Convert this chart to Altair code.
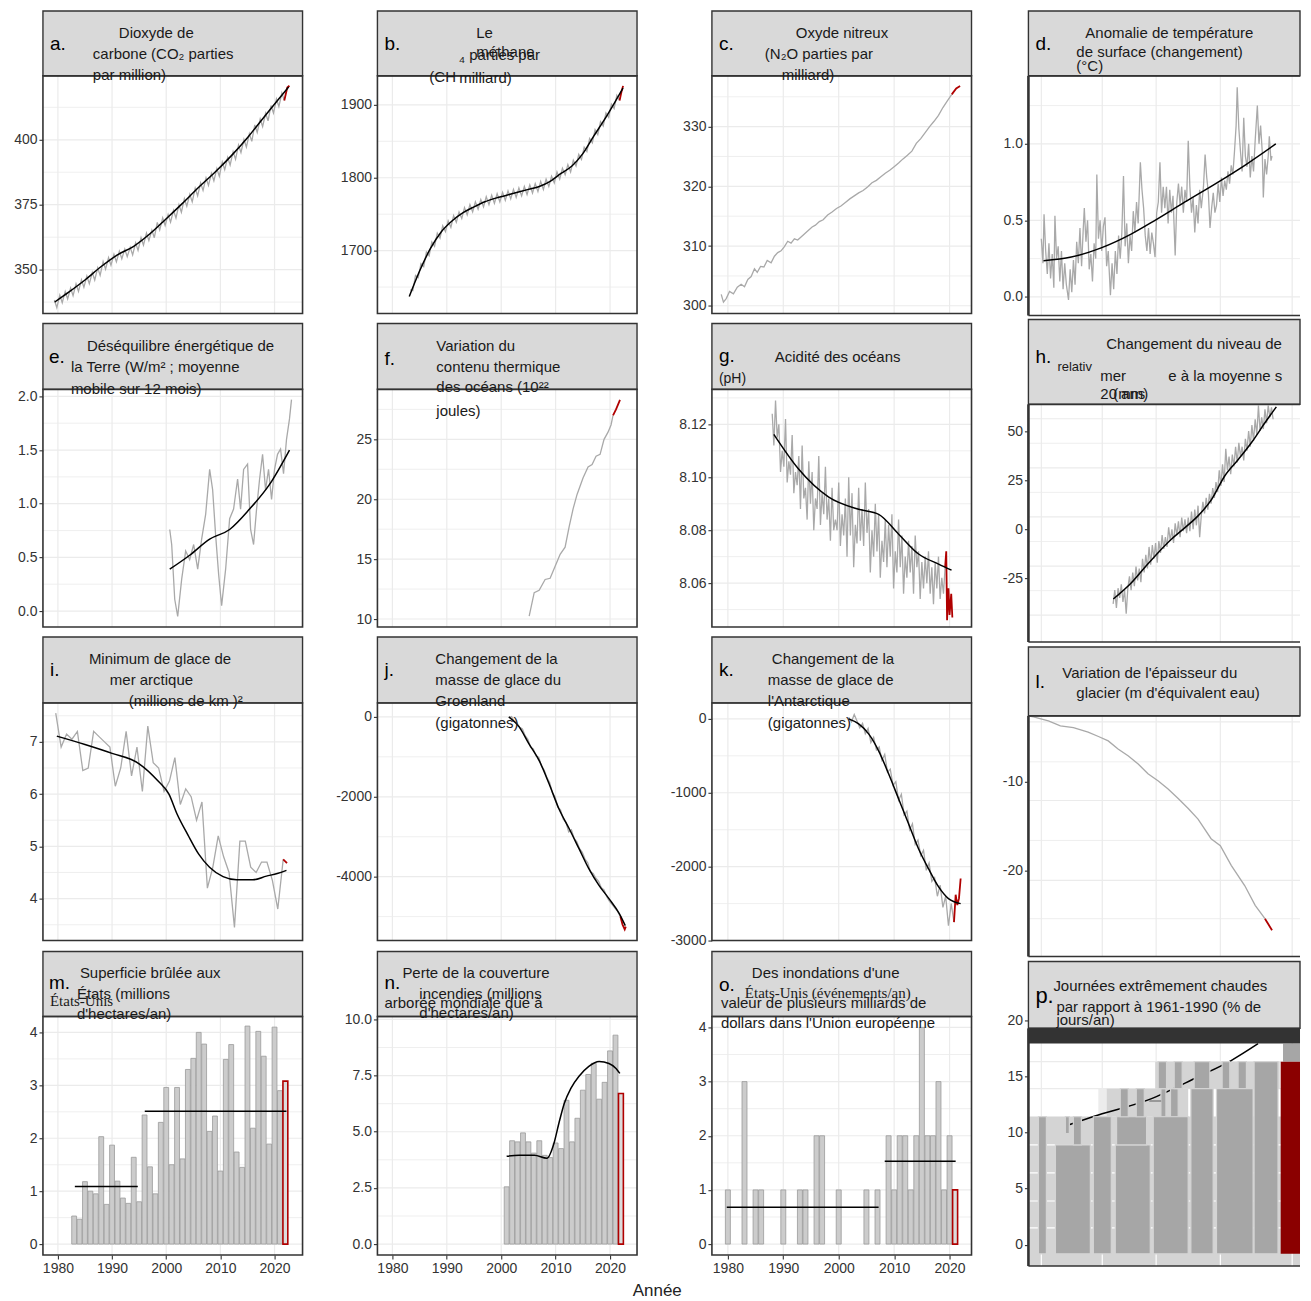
import altair as alt
import pandas as pd

FONT = "Liberation Sans"
SERIF = "Liberation Serif"
C_GRAY = "#a9a9a9"
C_RED = "#b00000"
C_GRID = "#ebebeb"
C_BORDER = "#333333"
C_STRIP = "#d9d9d9"
C_BAR = "#cccccc"
C_BAR_LINE = "#9a9a9a"
C_TXT = "#1a1a1a"
C_AXIS = "#333333"

# ---------------- data ----------------
# a. CO2 (ppm): seasonal high / low per year
a_years = list(range(1979, 2022))
a_high = [338.3, 340.2, 341.6, 342.9, 344.5, 346.1, 347.5, 348.9, 350.7, 353.1,
          354.6, 355.9, 357.1, 357.9, 358.6, 360.3, 362.3, 364.1, 365.2, 368.2,
          369.9, 371.2, 372.8, 375.0, 377.3, 379.0, 381.3, 383.4, 385.3, 387.1,
          388.9, 391.4, 393.2, 395.4, 398.0, 400.1, 402.3, 405.7, 408.0, 410.2,
          413.2, 415.7, 418.0]
a_low = [335.4, 337.3, 338.7, 340.0, 341.6, 343.2, 344.6, 346.0, 347.8, 350.2,
         351.7, 353.0, 354.2, 355.0, 355.7, 357.4, 359.4, 361.2, 362.3, 365.3,
         367.0, 368.3, 369.9, 372.1, 374.4, 376.1, 378.4, 380.5, 382.4, 384.2,
         386.0, 388.5, 390.3, 392.5, 395.1, 397.2, 399.4, 402.8, 405.1, 407.3,
         410.3, 412.8, 415.1]
a_red_t = [2021.8, 2022.35, 2022.75]
a_red_v = [415.1, 420.1, 420.8]
a_fit_t = [1979.4, 1982, 1985, 1988, 1991, 1994, 1997, 2000, 2003, 2006, 2009, 2012, 2015, 2018, 2021, 2022.6]
a_fit_v = [337.5, 341.3, 346.0, 351.2, 355.7, 359.0, 363.8, 369.6, 375.5, 381.7, 387.5, 393.8, 400.8, 408.6, 416.3, 420.3]

# b. methane (ppb)
b_years = list(range(1983, 2022))
b_high = [1646, 1666, 1682, 1698, 1712, 1724, 1734, 1741, 1748, 1753, 1759, 1763, 1767, 1770,
          1774, 1776, 1778, 1780, 1782, 1784, 1786, 1788, 1790, 1792, 1795, 1798, 1802, 1808,
          1813, 1818, 1824, 1832, 1842, 1854, 1866, 1877, 1889, 1901, 1913]
b_low = [1645, 1663, 1678, 1693, 1706, 1717, 1726, 1732, 1739, 1744, 1749, 1753, 1757, 1760,
         1763, 1765, 1767, 1769, 1771, 1773, 1775, 1777, 1779, 1781, 1784, 1788, 1793, 1798,
         1804, 1808, 1816, 1825, 1836, 1848, 1859, 1871, 1883, 1895, 1906]
b_red_t = [2021.75, 2022.1, 2022.4]
b_red_v = [1906, 1918, 1926]
b_fit_t = [1983.1, 1985, 1987, 1989, 1991, 1993, 1995, 1997, 1999, 2001, 2003, 2005, 2007,
           2009, 2011, 2013, 2015, 2017, 2019, 2021, 2022.4]
b_fit_v = [1637, 1672, 1703, 1726, 1741, 1752, 1760, 1767, 1772, 1776, 1780, 1784, 1788,
           1795, 1806, 1816, 1833, 1857, 1880, 1905, 1923]

# c. N2O (ppb)
c_t = [1978.8, 1979.2, 1979.7, 1980.3, 1981.0, 1981.7, 1982.4, 1983.0, 1983.6, 1984.2,
       1984.8, 1985.3, 1985.9, 1986.5, 1987.1, 1987.8, 1988.4, 1989.0, 1989.6, 1990.2,
       1990.8, 1991.4, 1992.0, 1992.6, 1993.2, 1993.9, 1994.5, 1995.2, 1995.8, 1996.5,
       1997.2, 1998.0, 1998.8, 1999.6, 2000.4, 2001.2, 2002.0, 2002.8, 2003.6, 2004.4,
       2005.2, 2006.0, 2006.8, 2007.6, 2008.4, 2009.2, 2010.0, 2010.8, 2011.6, 2012.4,
       2013.2, 2014.0, 2014.8, 2015.6, 2016.4, 2017.2, 2018.0, 2018.8, 2019.6, 2020.4]
c_v = [301.9, 300.6, 301.2, 302.4, 302.0, 303.1, 303.6, 303.2, 304.4, 304.9,
       306.2, 305.6, 306.6, 306.5, 307.6, 307.2, 308.3, 308.9, 309.2, 309.9,
       310.8, 310.5, 311.2, 311.0, 311.5, 312.1, 312.6, 313.2, 313.5, 314.1,
       314.4, 315.2, 315.7, 316.3, 316.7, 317.3, 317.9, 318.4, 318.9, 319.3,
       319.9, 320.6, 321.0, 321.6, 322.2, 322.7, 323.3, 323.9, 324.6, 325.2,
       325.9, 327.2, 328.0, 329.0, 330.0, 330.9, 331.9, 333.2, 334.3, 335.4]
c_red_t = [2020.4, 2021.2, 2021.9]
c_red_v = [335.4, 336.4, 336.8]

# d. surface temperature anomaly (deg C)
d_t = [1979.8, 1980.1, 1980.3, 1980.6, 1980.9, 1981.2, 1981.5, 1981.8, 1982.1, 1982.3,
       1982.6, 1982.9, 1983.2, 1983.5, 1983.8, 1984.1, 1984.4, 1984.8, 1985.1, 1985.4,
       1985.7, 1986.0, 1986.3, 1986.6, 1986.9, 1987.2, 1987.5, 1987.7, 1988.0, 1988.3,
       1988.6, 1988.9, 1989.2, 1989.5, 1989.8, 1990.0, 1990.3, 1990.6, 1990.9, 1991.2,
       1991.5, 1991.8, 1992.1, 1992.5, 1992.8, 1993.1, 1993.4, 1993.7, 1994.0, 1994.3,
       1994.6, 1994.9, 1995.2, 1995.5, 1995.8, 1996.1, 1996.4, 1996.7, 1997.0, 1997.3,
       1997.6, 1998.0, 1998.3, 1998.6, 1998.9, 1999.2, 1999.5, 1999.8, 2000.1, 2000.4,
       2000.7, 2001.0, 2001.3, 2001.6, 2001.9, 2002.2, 2002.5, 2002.8, 2003.1, 2003.4,
       2003.7, 2004.0, 2004.4, 2004.7, 2005.0, 2005.3, 2005.6, 2005.9, 2006.2, 2006.5,
       2006.8, 2007.1, 2007.4, 2007.7, 2008.0, 2008.3, 2008.6, 2008.9, 2009.2, 2009.6,
       2009.9, 2010.2, 2010.5, 2010.8, 2011.1, 2011.4, 2011.7, 2012.0, 2012.3, 2012.6,
       2012.9, 2013.2, 2013.5, 2013.8, 2014.1, 2014.4, 2014.7, 2015.0, 2015.3, 2015.6,
       2015.8, 2016.1, 2016.4, 2016.7, 2017.0, 2017.3, 2017.6, 2017.9, 2018.2, 2018.5,
       2018.8, 2019.1, 2019.5, 2019.8, 2020.1, 2020.4, 2020.6, 2020.9, 2021.2, 2021.5,
       2021.7, 2022.0, 2022.2]
d_v = [0.38, 0.22, 0.54, 0.30, 0.15, 0.35, 0.12, 0.28, 0.06, 0.53,
       0.25, 0.33, 0.10, 0.30, 0.05, 0.22, 0.08, -0.02, 0.18, 0.03,
       0.24, 0.08, 0.36, 0.22, 0.45, 0.20, 0.44, 0.58, 0.36, 0.50,
       0.18, 0.28, 0.10, 0.35, 0.25, 0.80, 0.38, 0.50, 0.30, 0.46,
       0.52, 0.20, 0.30, 0.01, 0.22, 0.05, 0.30, 0.15, 0.40, 0.25,
       0.42, 0.79, 0.33, 0.48, 0.22, 0.40, 0.30, 0.56, 0.42, 0.62,
       0.48, 0.88, 0.70, 0.58, 0.40, 0.30, 0.45, 0.28, 0.42, 0.35,
       0.26, 0.55, 0.62, 0.88, 0.55, 0.72, 0.58, 0.72, 0.48, 0.70,
       0.55, 0.66, 0.27, 0.62, 0.74, 0.60, 0.72, 0.55, 0.70, 0.62,
       1.02, 0.72, 0.55, 0.65, 0.42, 0.60, 0.48, 0.70, 0.58, 0.72,
       0.93, 0.78, 0.68, 0.45, 0.58, 0.68, 0.55, 0.60, 0.74, 0.62,
       0.78, 0.66, 0.76, 0.70, 0.82, 0.74, 0.86, 0.80, 0.95, 1.12,
       1.37, 1.10, 0.95, 0.82, 1.17, 0.92, 0.85, 1.00, 0.78, 0.92,
       0.82, 1.02, 1.25, 1.00, 1.12, 0.95, 0.65, 0.90, 0.80, 0.92,
       1.05, 0.89, 0.92]
d_fit_t = [1980.2, 1985.3, 1990.8, 1996.3, 2000.7, 2006.2, 2012.3, 2017.2, 2022.9]
d_fit_v = [0.236, 0.26, 0.32, 0.41, 0.50, 0.62, 0.75, 0.86, 1.0]

# e. Earth energy imbalance (W/m2)
e_t = [2000.65, 2001.01, 2001.57, 2002.12, 2002.86, 2003.59, 2004.33, 2005.07, 2005.81, 2006.54,
       2007.28, 2008.02, 2008.57, 2009.12, 2009.68, 2010.23, 2010.97, 2011.71, 2012.44, 2013.18,
       2013.73, 2014.29, 2015.02, 2015.58, 2016.13, 2016.68, 2017.24, 2017.79, 2018.34, 2018.89,
       2019.45, 2020.0, 2020.55, 2021.11, 2021.66, 2022.21, 2022.76, 2023.13]
e_v = [0.76, 0.62, 0.11, -0.05, 0.30, 0.56, 0.48, 0.62, 0.39, 0.67,
       0.90, 1.32, 1.13, 0.71, 0.34, 0.05, 0.39, 0.86, 0.95, 1.23,
       0.95, 1.32, 1.37, 0.76, 0.62, 0.95, 1.23, 1.46, 1.13, 1.32,
       1.04, 1.32, 1.46, 1.51, 1.28, 1.60, 1.79, 1.97]
e_fit_t = [2000.65, 2004.33, 2008.02, 2011.71, 2015.39, 2019.08, 2022.76]
e_fit_v = [0.39, 0.52, 0.67, 0.76, 0.95, 1.18, 1.50]

# f. ocean heat content (10^22 J)
f_t = [2005.14, 2006.06, 2006.97, 2008.07, 2008.99, 2009.91, 2010.83, 2011.74, 2012.48, 2013.21,
       2013.94, 2015.05, 2015.96, 2016.70, 2017.43, 2018.17, 2018.90, 2019.63, 2020.18, 2020.55]
f_v = [10.25, 12.2, 12.4, 13.3, 13.4, 14.4, 15.4, 16.0, 17.7, 19.2,
       20.4, 21.8, 22.7, 22.9, 23.6, 23.75, 25.0, 25.6, 26.2, 27.0]
f_red_t = [2020.55, 2021.10, 2021.83]
f_red_v = [27.0, 27.5, 28.3]

# g. ocean pH (sampled every 0.3 year from 1988.0)
g_v = [8.124, 8.112, 8.129, 8.115, 8.120, 8.102, 8.110, 8.104, 8.122, 8.098,
       8.106, 8.101, 8.116, 8.094, 8.102, 8.097, 8.108, 8.088, 8.112, 8.092,
       8.096, 8.084, 8.106, 8.090, 8.102, 8.080, 8.092, 8.088, 8.108, 8.082,
       8.094, 8.086, 8.104, 8.084, 8.092, 8.076, 8.096, 8.080, 8.084, 8.080,
       8.098, 8.074, 8.086, 8.078, 8.092, 8.070, 8.100, 8.078, 8.094, 8.066,
       8.082, 8.075, 8.096, 8.076, 8.088, 8.074, 8.098, 8.079, 8.088, 8.064,
       8.080, 8.070, 8.090, 8.072, 8.086, 8.062, 8.076, 8.068, 8.084, 8.066,
       8.082, 8.070, 8.086, 8.058, 8.072, 8.064, 8.084, 8.066, 8.078, 8.056,
       8.070, 8.062, 8.076, 8.064, 8.074, 8.056, 8.078, 8.066, 8.072, 8.054,
       8.068, 8.058, 8.070, 8.060, 8.072, 8.056, 8.066, 8.052, 8.068, 8.058,
       8.070, 8.054, 8.062, 8.056, 8.066]
g_t = [round(1988.0 + 0.3 * k, 2) for k in range(len(g_v))]
g_red_t = [2019.2, 2019.4, 2019.55, 2019.8, 2020.0, 2020.3, 2020.5]
g_red_v = [8.066, 8.072, 8.046, 8.058, 8.048, 8.056, 8.047]
g_fit_t = [1988.29, 1992.79, 1998.2, 2003.6, 2007.21, 2010.81, 2014.41, 2018.02, 2020.36]
g_fit_v = [8.1162, 8.103, 8.0925, 8.0879, 8.086, 8.0785, 8.071, 8.0672, 8.0649]

# h. sea level change (mm), sampled every 0.3 year from 1993.0
h_v = [-38, -31, -40, -30, -35, -28, -37, -31, -43, -30,
       -24, -31, -22, -29, -19, -26, -20, -27, -15, -22,
       -13, -20, -9, -18, -8, -15, -7, -17, -6, -12,
       -3, -10, -4, -9, 1, -6, 0, -7, 3, -3,
       4, -4, 6, -1, 5, -2, 6, -1, 9, 0,
       10, 2, 12, -4, 7, 14, 8, 16, 10, 18,
       13, 21, 16, 24, 19, 30, 22, 33, 24, 41,
       30, 37, 28, 38, 32, 42, 34, 44, 37, 42,
       35, 46, 40, 50, 42, 53, 45, 56, 48, 63,
       50, 57, 51, 61, 54, 63, 57, 62, 56]
h_t = [round(1993.0 + 0.3 * k, 2) for k in range(len(h_v))]
h_fit_t = [1993.03, 1996.4, 1998.8, 2001.3, 2003.7, 2006.2, 2008.6, 2011.1, 2013.5, 2016.0, 2018.4, 2020.9, 2023.0]
h_fit_v = [-35.5, -27.1, -19.5, -11.8, -5.1, 0.8, 6.8, 15.2, 27.1, 35.5, 44.0, 54.2, 62.3]

# i. Arctic sea ice minimum (million km2)
i_years = list(range(1979, 2022))
i_v = [7.55, 6.9, 7.15, 7.05, 7.2, 6.45, 6.5, 7.2, 7.1, 7.0,
       6.9, 6.15, 6.5, 7.2, 6.35, 6.9, 6.05, 7.3, 6.6, 6.5,
       6.05, 6.25, 6.7, 5.8, 6.1, 5.95, 5.5, 5.85, 4.2, 4.6,
       5.2, 4.8, 4.5, 3.45, 5.1, 5.1, 4.6, 4.5, 4.7, 4.7,
       4.35, 3.8, 4.75]
i_red_t = [2021.6, 2022.3]
i_red_v = [4.75, 4.68]
i_fit_t = [1979.8, 1985, 1990, 1995, 1998.5, 2000.5, 2002, 2004, 2006, 2008, 2010.5, 2013, 2016, 2018.5, 2020.5, 2022.2]
i_fit_v = [7.11, 6.95, 6.78, 6.58, 6.25, 6.0, 5.62, 5.22, 4.85, 4.6, 4.42, 4.36, 4.36, 4.43, 4.48, 4.54]

# j. Greenland mass change (Gt), every 0.5 year from 2001.4
j_v = [-20, 10, -120, -150, -260, -300, -470, -560, -760, -800,
       -980, -1010, -1230, -1330, -1520, -1640, -1900, -2000, -2260, -2330,
       -2560, -2640, -2880, -2830, -3040, -3130, -3300, -3390, -3560, -3650,
       -3880, -3920, -4040, -4120, -4280, -4330, -4500, -4620, -4700, -4790,
       -4870, -5000]
j_t = [round(2001.4 + 0.5 * k, 2) for k in range(len(j_v))]
j_red_t = [2021.9, 2022.3, 2022.7, 2022.9]
j_red_v = [-5000, -5200, -5320, -5250]
j_fit_t = [2001.4, 2003.3, 2005.1, 2007.0, 2008.8, 2010.6, 2012.5, 2014.3, 2016.1, 2018.0, 2019.8, 2021.7, 2022.8]
j_fit_v = [0, -250, -675, -1100, -1675, -2300, -2800, -3300, -3800, -4225, -4550, -4925, -5225]

# k. Antarctica mass change (Gt), every 0.5 year from 2001.8
k_v = [20, -40, 60, -30, -120, -60, -200, -130, -320, -250,
       -420, -380, -560, -480, -720, -680, -900, -850, -1100, -1020,
       -1300, -1250, -1500, -1420, -1700, -1640, -1850, -1780, -2050, -1950,
       -2200, -2150, -2400, -2250, -2550, -2400, -2800, -2500, -2750]
k_t = [round(2001.8 + 0.5 * k, 2) for k in range(len(k_v))]
k_red_t = [2020.8, 2021.1, 2021.4, 2021.7, 2022.0]
k_red_v = [-2750, -2380, -2520, -2430, -2160]
k_fit_t = [2001.8, 2003.6, 2005.4, 2007.2, 2009.0, 2010.8, 2012.6, 2014.4, 2016.2, 2018.0, 2019.8, 2022.0]
k_fit_v = [0, -68, -203, -432, -743, -1081, -1419, -1757, -2027, -2270, -2432, -2500]

# l. glacier thickness change (m w.e.)
l_t = [1977.6, 1978.35, 1981.1, 1983.3, 1985.7, 1988.4, 1990.3, 1992.1, 1993.9, 1995.8, 1997.6, 1999.4,
       2001.3, 2003.1, 2005.0, 2006.8, 2008.6, 2011.0, 2012.7, 2014.7, 2017.2, 2019.1, 2020.9]
l_v = [-2.6, -2.7, -3.15, -3.7, -3.9, -4.4, -4.9, -5.4, -6.3, -7.1, -8.0, -9.1,
       -9.9, -10.8, -11.9, -13.0, -14.2, -16.4, -17.2, -19.4, -21.7, -23.9, -25.4]
l_red_t = [2020.9, 2021.5, 2022.2]
l_red_v = [-25.4, -26.0, -26.7]

# m. US burned area (million ha/yr)
m_years = list(range(1983, 2022))
m_v = [0.53, 0.47, 1.18, 1.0, 0.95, 2.03, 0.75, 1.87, 1.19, 0.87,
       0.77, 1.64, 0.80, 2.44, 1.46, 0.95, 2.30, 2.96, 1.50, 2.96,
       1.61, 3.30, 3.51, 4.00, 3.78, 2.13, 2.42, 1.38, 3.49, 3.77,
       1.74, 1.45, 4.12, 2.19, 4.02, 3.55, 1.89, 4.10, 2.9]
m_red_year = [2022]
m_red_v = [3.08]
m_mean_t0 = [1983.13, 1996.04]
m_mean_t1 = [1994.75, 2022.2]
m_mean_v = [1.09, 2.51]

# n. global tree cover loss from fires (million ha/yr)
n_years = list(range(2001, 2022))
n_v = [2.55, 4.6, 4.55, 4.95, 4.55, 4.05, 4.6, 3.95, 3.85, 4.5,
       4.25, 6.4, 4.55, 5.6, 6.85, 7.55, 8.05, 6.45, 7.2, 8.6, 9.3]
n_red_year = [2022]
n_red_v = [6.7]
n_fit_t = [2001.0, 2003.3, 2006.1, 2008.4, 2009.7, 2010.6, 2011.6, 2012.8, 2014.3, 2016.1, 2018.0, 2019.8, 2021.1, 2021.8]
n_fit_v = [3.91, 3.95, 3.95, 3.82, 4.49, 5.38, 6.27, 6.93, 7.47, 7.91, 8.13, 8.04, 7.82, 7.6]

# o. billion-dollar floods (events/yr)
o_years = [1980, 1983, 1985, 1986, 1990, 1993, 1994, 1996, 1997, 2000, 2005, 2007,
           2009, 2010, 2011, 2012, 2013, 2014, 2015, 2016, 2017, 2018, 2019, 2020]
o_v = [1, 3, 1, 1, 1, 1, 1, 2, 2, 1, 1, 1,
       2, 1, 2, 2, 1, 2, 4, 2, 2, 3, 1, 2]
o_red_year = [2021]
o_red_v = [1]
o_mean_t0 = [1979.8, 2008.3]
o_mean_t1 = [2007.2, 2021.1]
o_mean_v = [0.68, 1.53]

# p. extremely hot days (% of days/yr) - rendered blocks
p_light_x0 = [1977.43, 1990.28, 1991.8, 2000.73]
p_light_x1 = [2027.34, 1991.8, 2006.79, 2023.6]
p_light_y0 = [-1.89, 11.4, 11.4, 13.9]
p_light_y1 = [11.4, 13.9, 13.9, 16.3]
p_light_c = ["#d4d4d4", "#ececec", "#d4d4d4", "#d4d4d4"]
p_dark_x0 = [1979.27, 1982.39, 1985.69, 1984.22, 1989.36, 1993.39, 1993.63, 1994.31, 1997.25, 2001.78,
             2003.54, 2000.37, 2001.28, 2004.22, 2007.89, 2013.03, 2015.96, 2007.28, 2011.99, 2018.90]
p_dark_x1 = [1980.73, 1988.81, 1987.16, 1984.95, 1992.66, 1999.82, 1999.14, 1995.78, 1998.72, 2002.70,
             2004.95, 2006.79, 2002.81, 2005.69, 2010.77, 2014.44, 2017.49, 2011.38, 2018.72, 2023.30]
p_dark_y0 = [-0.8, -0.8, 8.9, 9.9, -0.8, -0.8, 8.9, 11.4, 11.4, 11.4,
             11.4, -0.8, 13.9, 13.9, 13.9, 13.9, 13.9, -0.8, -0.8, -0.8]
p_dark_y1 = [11.4, 8.9, 11.4, 11.4, 11.4, 8.9, 11.4, 13.9, 13.9, 13.9,
             13.9, 11.4, 16.3, 16.3, 16.3, 16.3, 16.3, 13.9, 13.9, 16.3]
p_top_x0, p_top_x1, p_top_y0, p_top_y1 = [2024.22], [2027.34], [16.3], [17.9]
p_red_x0, p_red_x1, p_red_y0, p_red_y1 = [2023.79], [2027.34], [-0.8], [16.3]
p_fit_t = [1984.77, 1990.28, 1999.45, 2008.62, 2014.68, 2019.63]
p_fit_v = [10.67, 11.56, 12.9, 14.96, 16.4, 17.9]
p_dash_t0, p_dash_t1, p_dash_v = [1999.63], [2001.83], [12.8]
p_white_h = [1.5, 3.9, 6.4, 8.9]

# axis ticks
DECADES = [1980, 1990, 2000, 2010, 2020]
COL4_VGRID = [1979.8, 1991.0, 2000.9, 2012.7, 2025.9]

# ---------------- layout ----------------
XDOM = {0: [1977.24, 2025.17], 1: [1977.25, 2024.96], 2: [1977.12, 2023.96], 3: [1977.43, 2027.34]}
GROUP_W = {0: 335, 1: 335, 2: 317, 3: 272}
PLOT_W = {0: 260, 1: 260, 2: 260, 3: 272}
ROW_H = {0: 309, 1: 318, 2: 315, 3: 304}
ONE = pd.DataFrame({"k": [0]})
TS = 15
LS = 19


def seasonal(years, hi, lo, o1, o2):
    t, v = [], []
    for y, h, l in zip(years, hi, lo):
        t += [y + o1, y + o2]
        v += [h, l]
    return t, v


def L(t, v, color, w, interp="linear"):
    return {"kind": "line", "t": t, "v": v, "color": color, "w": w, "interp": interp}


def BARS(years, vals, fill, stroke, sw):
    return {"kind": "bars", "years": years, "v": vals, "fill": fill, "stroke": stroke, "sw": sw}


def SEG(t0, t1, v, color, w):
    return {"kind": "seg", "t0": t0, "t1": t1, "v": v, "color": color, "w": w}


def RECTS(x0, x1, y0, y1, colors, stroke=None, sw=0):
    return {"kind": "rects", "x0": x0, "x1": x1, "y0": y0, "y1": y1, "c": colors, "stroke": stroke, "sw": sw}


def HR(vals, color, w):
    return {"kind": "hr", "g": vals, "color": color, "w": w}


def VSEG(t, v0, v1, color, w):
    return {"kind": "vseg", "t": t, "v0": v0, "v1": v1, "color": color, "w": w}


def build_panel(cfg):
    col, row = cfg["col"], cfg["row"]
    Wp = PLOT_W[col]
    top, bot = cfg["frame"]
    s0, s1 = cfg["strip"]
    yr = cfg.get("yrange", [bot, top])
    xs = alt.Scale(domain=XDOM[col], range=[0, Wp], nice=False, zero=False)
    ys = alt.Scale(domain=cfg["ydom"], range=yr, nice=False, zero=False)
    if row == 3 and col < 3:
        xaxis = alt.Axis(values=DECADES, labelExpr="'' + datum.value", domain=False, grid=False,
                         ticks=True, tickSize=4, tickColor=C_AXIS, tickWidth=1.1, labelFont=FONT,
                         labelFontSize=14, labelColor=C_AXIS, labelPadding=2, labelFlush=False,
                         labelOverlap=False, title=None)
    else:
        xaxis = None
    ykw = dict(values=cfg["yticks"], domain=False, grid=False, ticks=True, tickSize=4,
               tickColor=C_AXIS, tickWidth=1.1, labelFont=FONT, labelFontSize=14,
               labelColor=C_AXIS, labelPadding=2, labelFlush=False, labelOverlap=False, title=None)
    if "yfmt" in cfg:
        ykw["format"] = cfg["yfmt"]
    else:
        ykw["labelExpr"] = "'' + datum.value"
    yaxis = alt.Axis(**ykw)

    def X(f):
        return alt.X(f"{f}:Q", scale=xs, axis=xaxis)

    def Y(f):
        return alt.Y(f"{f}:Q", scale=ys, axis=yaxis)

    layers = []
    vg = COL4_VGRID if col == 3 else DECADES
    layers.append(alt.Chart(pd.DataFrame({"g": vg})).mark_rule(color=C_GRID, strokeWidth=1.2)
                  .encode(x=X("g"), y=alt.value(top), y2=alt.value(bot)))
    hmaj = cfg.get("hmajor", cfg["yticks"])
    layers.append(alt.Chart(pd.DataFrame({"g": hmaj})).mark_rule(color=C_GRID, strokeWidth=1.2)
                  .encode(y=Y("g"), x=alt.value(0), x2=alt.value(Wp)))
    if cfg.get("hminor"):
        layers.append(alt.Chart(pd.DataFrame({"g": cfg["hminor"]})).mark_rule(color=C_GRID, strokeWidth=0.8)
                      .encode(y=Y("g"), x=alt.value(0), x2=alt.value(Wp)))

    for s in cfg["series"]:
        k = s["kind"]
        if k == "line":
            df = pd.DataFrame({"t": s["t"], "v": s["v"]})
            layers.append(alt.Chart(df).mark_line(color=s["color"], strokeWidth=s["w"], interpolate=s["interp"])
                          .encode(x=X("t"), y=Y("v")))
        elif k == "bars":
            df = pd.DataFrame({"x0": [y - 0.45 for y in s["years"]], "x1": [y + 0.45 for y in s["years"]],
                               "v": s["v"], "b": [0] * len(s["v"])})
            layers.append(alt.Chart(df).mark_rect(fill=s["fill"], stroke=s["stroke"], strokeWidth=s["sw"])
                          .encode(x=X("x0"), x2=alt.X2("x1:Q"), y=Y("v"), y2=alt.Y2("b:Q")))
        elif k == "seg":
            df = pd.DataFrame({"t0": s["t0"], "t1": s["t1"], "v": s["v"]})
            layers.append(alt.Chart(df).mark_rule(color=s["color"], strokeWidth=s["w"])
                          .encode(x=X("t0"), x2=alt.X2("t1:Q"), y=Y("v")))
        elif k == "rects":
            df = pd.DataFrame({"x0": s["x0"], "x1": s["x1"], "y0": s["y0"], "y1": s["y1"], "c": s["c"]})
            kw = {}
            if s["stroke"]:
                kw = dict(stroke=s["stroke"], strokeWidth=s["sw"])
            layers.append(alt.Chart(df).mark_rect(**kw)
                          .encode(x=X("x0"), x2=alt.X2("x1:Q"), y=Y("y0"), y2=alt.Y2("y1:Q"),
                                  fill=alt.Fill("c:N", scale=None)))
        elif k == "hr":
            layers.append(alt.Chart(pd.DataFrame({"g": s["g"]})).mark_rule(color=s["color"], strokeWidth=s["w"])
                          .encode(y=Y("g"), x=alt.value(0), x2=alt.value(Wp)))
        elif k == "vseg":
            df = pd.DataFrame({"t": s["t"], "v0": [s["v0"]] * len(s["t"]), "v1": [s["v1"]] * len(s["t"])})
            layers.append(alt.Chart(df).mark_rule(color=s["color"], strokeWidth=s["w"])
                          .encode(x=X("t"), y=Y("v0"), y2=alt.Y2("v1:Q")))

    # strip
    layers.append(alt.Chart(ONE).mark_rect(fill=C_STRIP, stroke=C_BORDER, strokeWidth=1.4)
                  .encode(x=alt.value(0), x2=alt.value(Wp), y=alt.value(s0), y2=alt.value(s1)))
    if cfg.get("band"):
        b0, b1 = cfg["band"]
        layers.append(alt.Chart(ONE).mark_rect(fill="#333333")
                      .encode(x=alt.value(0), x2=alt.value(Wp), y=alt.value(b0), y2=alt.value(b1)))
    # panel border
    if col < 3:
        layers.append(alt.Chart(ONE).mark_rect(fillOpacity=0, stroke=C_BORDER, strokeWidth=1.6)
                      .encode(x=alt.value(0), x2=alt.value(Wp), y=alt.value(top), y2=alt.value(bot)))
    else:
        layers.append(alt.Chart(ONE).mark_rule(color=C_BORDER, strokeWidth=2.6)
                      .encode(x=alt.value(0), y=alt.value(top), y2=alt.value(bot)))
        for yy in (top, bot):
            layers.append(alt.Chart(ONE).mark_rule(color=C_BORDER, strokeWidth=1.6)
                          .encode(x=alt.value(0), x2=alt.value(Wp), y=alt.value(yy)))
    # strip texts
    for tx in cfg["texts"]:
        x, y, txt = tx[0], tx[1], tx[2]
        size = tx[3] if len(tx) > 3 else TS
        font = tx[4] if len(tx) > 4 else FONT
        color = "#000000" if size >= LS else C_TXT
        layers.append(alt.Chart(ONE).mark_text(align="left", baseline="middle", font=font, fontSize=size,
                                                color=color)
                      .encode(x=alt.value(x), y=alt.value(y), text=alt.value(txt)))
    return alt.layer(*layers).properties(width=GROUP_W[col], height=ROW_H[row])


a_t, a_v = seasonal(a_years, a_high, a_low, 0.35, 0.8)
b_t, b_v = seasonal(b_years, b_high, b_low, 0.25, 0.75)
i_t = [y + 0.6 for y in i_years]

cfgs = [
    dict(col=0, row=0, strip=(0, 65), frame=(65, 303), ydom=[333.1, 424.6], yticks=[350, 375, 400],
         hminor=[337.5, 362.5, 387.5, 412.5],
         series=[L(a_t, a_v, C_GRAY, 1.3), L(a_red_t, a_red_v, C_RED, 1.8),
                 L(a_fit_t, a_fit_v, "black", 1.5, "monotone")],
         texts=[(7, 33, "a.", LS), (76, 22, "Dioxyde de"), (50, 43, "carbone (CO₂ parties"),
                (50, 64, "par million)")]),
    dict(col=1, row=0, strip=(0, 65), frame=(65, 303), ydom=[1613.7, 1939.7], yticks=[1700, 1800, 1900],
         hminor=[1650, 1750, 1850],
         series=[L(b_t, b_v, C_GRAY, 1.3), L(b_red_t, b_red_v, C_RED, 1.8),
                 L(b_fit_t, b_fit_v, "black", 1.5, "monotone")],
         texts=[(7, 33, "b.", LS), (99, 22, "Le"), (99, 41, "méthane"), (92, 44, "parties par"),
                (82, 49, "4", 10), (52, 66, "(CH"), (82, 67, "milliard)")]),
    dict(col=2, row=0, strip=(0, 65), frame=(65, 303), ydom=[298.7, 338.5], yticks=[300, 310, 320, 330],
         hminor=[305, 315, 325, 335],
         series=[L(c_t, c_v, C_GRAY, 1.3), L(c_red_t, c_red_v, C_RED, 1.8)],
         texts=[(7, 33, "c.", LS), (84, 22, "Oxyde nitreux"), (53, 43, "(N₂O parties par"),
                (70, 64, "milliard)")]),
    dict(col=3, row=0, strip=(0, 65), frame=(65, 305), ydom=[-0.122, 1.444], yticks=[0, 0.5, 1.0], yfmt=".1f",
         hminor=[0.25, 0.75, 1.25],
         series=[L(d_t, d_v, C_GRAY, 1.3), L(d_fit_t, d_fit_v, "black", 1.5, "monotone")],
         texts=[(7, 33, "d.", LS), (57, 22, "Anomalie de température"), (48, 41, "de surface (changement)"),
                (48, 55, "(°C)")]),
    dict(col=0, row=1, strip=(4, 70), frame=(70, 308), ydom=[-0.149, 2.065], yticks=[0, 0.5, 1.0, 1.5, 2.0],
         yfmt=".1f", hminor=[0.25, 0.75, 1.25, 1.75],
         series=[L(e_t, e_v, C_GRAY, 1.3), L(e_fit_t, e_fit_v, "black", 1.5, "monotone")],
         texts=[(6, 38, "e.", LS), (44, 27, "Déséquilibre énergétique de"), (28, 48, "la Terre (W/m² ; moyenne"),
                (28, 70, "mobile sur 12 mois)")]),
    dict(col=1, row=1, strip=(4, 70), frame=(70, 308), ydom=[9.33, 29.17], yticks=[10, 15, 20, 25],
         hminor=[12.5, 17.5, 22.5, 27.5],
         series=[L(f_t, f_v, C_GRAY, 1.3), L(f_red_t, f_red_v, C_RED, 1.8)],
         texts=[(7, 40, "f.", LS), (59, 27, "Variation du"), (59, 48, "contenu thermique"),
                (59, 68, "des océans (10²²"), (59, 92, "joules)")]),
    dict(col=2, row=1, strip=(4, 70), frame=(70, 308), ydom=[8.0434, 8.1332], yticks=[8.06, 8.08, 8.10, 8.12],
         yfmt=".2f", hminor=[8.05, 8.07, 8.09, 8.11, 8.13],
         series=[L(g_t, g_v, C_GRAY, 1.3), L(g_red_t, g_red_v, C_RED, 1.8),
                 L(g_fit_t, g_fit_v, "black", 1.5, "monotone")],
         texts=[(7, 37, "g.", LS), (63, 38, "Acidité des océans"), (7, 60, "(pH)", 14)]),
    dict(col=3, row=1, strip=(0, 85), frame=(85, 323), ydom=[-57.4, 63.55], yticks=[-25, 0, 25, 50],
         hmajor=[56.25, 31.25, 6.25, -18.75, -43.75], hminor=[43.75, 18.75, -6.25, -31.25],
         series=[L(h_t, h_v, C_GRAY, 1.3), L(h_fit_t, h_fit_v, "black", 1.5, "monotone")],
         texts=[(7, 38, "h.", LS), (78, 25, "Changement du niveau de"), (29, 48, "relativ", 13),
                (72, 57, "mer"), (140, 57, "e à la moyenne s"), (72, 75, "20 ans"), (85, 75, "(mm)")]),
    dict(col=0, row=2, strip=(0, 66), frame=(66, 304), ydom=[3.197, 7.745], yticks=[4, 5, 6, 7],
         hminor=[3.5, 4.5, 5.5, 6.5, 7.5],
         series=[L(i_t, i_v, C_GRAY, 1.3), L(i_red_t, i_red_v, C_RED, 1.8),
                 L(i_fit_t, i_fit_v, "black", 1.5, "monotone")],
         texts=[(7, 33, "i.", LS), (46, 22, "Minimum de glace de"), (67, 43, "mer arctique"),
                (86, 64, "(millions de km )²")]),
    dict(col=1, row=2, strip=(0, 66), frame=(66, 304), ydom=[-5600, 350], yticks=[-4000, -2000, 0],
         hminor=[-5000, -3000, -1000],
         series=[L(j_t, j_v, C_GRAY, 1.3), L(j_red_t, j_red_v, C_RED, 1.8),
                 L(j_fit_t, j_fit_v, "black", 1.5, "monotone")],
         texts=[(7, 33, "j.", LS), (58, 22, "Changement de la"), (58, 43, "masse de glace du"),
                (58, 64, "Groenland"), (58, 86, "(gigatonnes)")]),
    dict(col=2, row=2, strip=(0, 66), frame=(66, 304), ydom=[-3000, 216], yticks=[-3000, -2000, -1000, 0],
         hminor=[-2500, -1500, -500],
         series=[L(k_t, k_v, C_GRAY, 1.3), L(k_red_t, k_red_v, C_RED, 1.8),
                 L(k_fit_t, k_fit_v, "black", 1.5, "monotone")],
         texts=[(7, 33, "k.", LS), (60, 22, "Changement de la"), (56, 43, "masse de glace de"),
                (56, 64, "l'Antarctique"), (56, 86, "(gigatonnes)")]),
    dict(col=3, row=2, strip=(10, 79), frame=(79, 320), ydom=[-29.66, -2.584], yticks=[-20, -10],
         hmajor=[-3.25, -12.1, -21.1], hminor=[-7.75, -16.6, -25.4],
         series=[L(l_t, l_v, C_GRAY, 1.3), L(l_red_t, l_red_v, C_RED, 1.8)],
         texts=[(7, 45, "l.", LS), (34, 36, "Variation de l'épaisseur du"), (48, 56, "glacier (m d'équivalent eau)")]),
    dict(col=0, row=3, strip=(0, 65), frame=(65, 304), ydom=[-0.2075, 4.302], yticks=[0, 1, 2, 3, 4],
         hminor=[0.5, 1.5, 2.5, 3.5],
         series=[BARS(m_years, m_v, C_BAR, C_BAR_LINE, 0.8), BARS(m_red_year, m_red_v, "#dcdcdc", C_RED, 1.6),
                 SEG(m_mean_t0, m_mean_t1, m_mean_v, "black", 1.5)],
         texts=[(6, 32, "m.", LS), (37, 22, "Superficie brûlée aux"), (34, 43, "États (millions"),
                (7, 50, "États-Unis", 15, SERIF), (34, 63, "d'hectares/an)")]),
    dict(col=1, row=3, strip=(0, 65), frame=(65, 304), ydom=[-0.489, 10.133], yticks=[0, 2.5, 5, 7.5, 10],
         yfmt=".1f", hminor=[1.25, 3.75, 6.25, 8.75],
         series=[BARS(n_years, n_v, C_BAR, C_BAR_LINE, 0.8), BARS(n_red_year, n_red_v, "#dcdcdc", C_RED, 1.6),
                 L(n_fit_t, n_fit_v, "black", 1.5, "monotone")],
         texts=[(7, 32, "n.", LS), (25, 22, "Perte de la couverture"), (42, 43, "incendies (millions"),
                (7, 52, "arborée mondiale due à"), (42, 62, "d'hectares/an)")]),
    dict(col=2, row=3, strip=(0, 65), frame=(65, 304), ydom=[-0.203, 4.203], yticks=[0, 1, 2, 3, 4],
         hminor=[0.5, 1.5, 2.5, 3.5],
         series=[BARS(o_years, o_v, C_BAR, C_BAR_LINE, 0.8), BARS(o_red_year, o_red_v, "#dcdcdc", C_RED, 1.6),
                 SEG(o_mean_t0, o_mean_t1, o_mean_v, "black", 1.5)],
         texts=[(7, 34, "o.", LS), (40, 22, "Des inondations d'une"),
                (33, 42, "États-Unis (événements/an)", 15, SERIF),
                (9, 52, "valeur de plusieurs milliards de"), (9, 72, "dollars dans l'Union européenne")]),
    dict(col=3, row=3, strip=(10, 77), band=(77, 92), frame=(77, 315), yrange=[315, 0],
         ydom=[-1.893, 26.107], yticks=[0, 5, 10, 15, 20],
         hmajor=[1.5, 3.9, 6.4, 8.9, 11.4, 13.9, 16.3],
         series=[RECTS(p_light_x0, p_light_x1, p_light_y0, p_light_y1, p_light_c),
                 HR(p_white_h, "white", 1.2),
                 VSEG(COL4_VGRID, -1.89, 11.4, "white", 1.2),
                 L(p_fit_t, p_fit_v, "black", 1.5, "monotone"),
                 RECTS(p_dark_x0, p_dark_x1, p_dark_y0, p_dark_y1, ["#a6a6a6"] * len(p_dark_x0), "#d4d4d4", 1.2),
                 RECTS(p_top_x0, p_top_x1, p_top_y0, p_top_y1, ["#a6a6a6"]),
                 RECTS(p_red_x0, p_red_x1, p_red_y0, p_red_y1, ["#8b0000"]),
                 SEG(p_dash_t0, p_dash_t1, p_dash_v, "#999999", 2)],
         texts=[(7, 45, "p.", 22), (25, 35, "Journées extrêmement chaudes"),
                (28, 56, "par rapport à 1961-1990 (% de"), (28, 69, "jours/an)")]),
]

panels = [build_panel(c) for c in cfgs]

chart = alt.concat(*panels, columns=4, spacing=0, bounds="flush").properties(
    title=alt.TitleParams(text="Année", orient="bottom", anchor="middle", font=FONT, fontSize=17,
                          fontWeight="normal", color="#222222", offset=8),
    padding={"left": 5, "top": 1, "right": 2, "bottom": 0},
    background="white",
).configure_view(stroke=None)

chart.save("out.html", embed_options={"renderer": "svg", "actions": False})
